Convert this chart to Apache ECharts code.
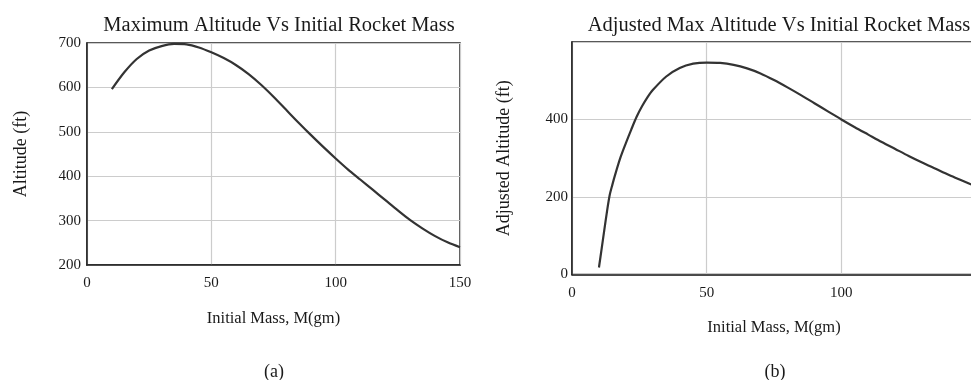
<!DOCTYPE html>
<html>
<head>
<meta charset="utf-8">
<script src="https://cdn.jsdelivr.net/npm/echarts@6/dist/echarts.min.js"></script>
<style>
html,body{margin:0;padding:0;background:#fff;}
#chart{width:971px;height:380px;}
</style>
</head>
<body>
<div id="chart"></div>
<script>
// ---- Data ----
const massA = [10, 15, 20, 25, 30, 35, 40, 45, 50, 55, 60, 65, 70, 75, 80, 85, 90, 95, 100, 105, 110, 115, 120, 125, 130, 135, 140, 145, 150];
const altitudeA = [596, 634, 664, 683, 693, 698, 697, 690, 679, 666, 650, 630, 606, 579, 550, 521, 493, 466, 440, 415, 392, 369, 346, 323, 301, 282, 265, 251, 240];

const massB = [10, 11, 12, 13, 14, 15, 16, 18, 20, 22, 24, 26, 28, 30, 35, 40, 45, 50, 55, 60, 65, 70, 75, 80, 85, 90, 95, 100, 105, 110, 115, 120, 125, 130, 135, 140, 145, 150];
const adjAltitudeB = [18, 66, 115, 163, 205, 232, 257, 302, 339, 374, 407, 434, 457, 476, 511, 533, 544, 547, 546, 541, 532, 519, 502, 483, 463, 442, 421, 400, 380, 361, 342, 324, 306, 289, 273, 257, 242, 227];

const titleA = 'Maximum Altitude Vs Initial Rocket Mass';
const titleB = 'Adjusted Max Altitude Vs Initial Rocket Mass';
const xName = 'Initial Mass, M(gm)';
const yNameA = 'Altitude (ft)';
const yNameB = 'Adjusted Altitude (ft)';
const panelLabels = ['(a)', '(b)'];

// ---- Chart ----
const FONT = 'Liberation Serif';
const TXT = '#1a1a1a';
const FRAME = '#222';
const GRIDC = '#cccccc';

const pairs = (xs, ys) => xs.map((x, i) => [x, ys[i]]);

const chart = echarts.init(document.getElementById('chart'), null, {renderer: 'canvas'});

function xAxisCfg(gridIndex, hideMax) {
  return {
    type: 'value', gridIndex, min: 0, max: 150, interval: 50,
    name: xName, nameLocation: 'middle', nameGap: 45,
    nameTextStyle: {fontFamily: FONT, fontSize: 16.5, color: TXT},
    axisLine: {show: true, lineStyle: {color: FRAME, width: 1.5}},
    axisTick: {show: false},
    axisLabel: {fontFamily: FONT, fontSize: 15, color: TXT, margin: 11, showMaxLabel: !hideMax},
    splitLine: {show: true, lineStyle: {color: GRIDC, width: 1.2}}
  };
}

chart.setOption({
  animation: false,
  backgroundColor: '#fff',
  title: [
    {text: titleA, left: 274, top: 10, textAlign: 'center',
     textStyle: {fontFamily: FONT, fontSize: 20.5, fontWeight: 'normal', color: TXT}},
    {text: titleB, left: 774, top: 10, textAlign: 'center',
     textStyle: {fontFamily: FONT, fontSize: 20.5, fontWeight: 'normal', color: TXT}}
  ],
  grid: [
    {left: 87, top: 43, width: 373, height: 222, show: true, borderColor: FRAME, borderWidth: 1.5,
     containLabel: false, outerBoundsMode: 'none'},
    {left: 572, top: 42, width: 404, height: 232.5, show: true, borderColor: FRAME, borderWidth: 1.5,
     containLabel: false, outerBoundsMode: 'none'}
  ],
  xAxis: [xAxisCfg(0, false), xAxisCfg(1, true)],
  yAxis: [
    {type: 'value', gridIndex: 0, min: 200, max: 700, interval: 100,
     name: yNameA, nameLocation: 'middle', nameGap: 57,
     nameTextStyle: {fontFamily: FONT, fontSize: 18, color: TXT},
     axisLine: {show: true, lineStyle: {color: FRAME, width: 1.5}},
     axisTick: {show: false},
     axisLabel: {fontFamily: FONT, fontSize: 15, color: TXT, margin: 6},
     splitLine: {show: true, lineStyle: {color: GRIDC, width: 1.2}}},
    {type: 'value', gridIndex: 1, min: 0, max: 600, interval: 200,
     name: yNameB, nameLocation: 'middle', nameGap: 59,
     nameTextStyle: {fontFamily: FONT, fontSize: 18, color: TXT},
     axisLine: {show: true, lineStyle: {color: FRAME, width: 1.5}},
     axisTick: {show: false},
     axisLabel: {fontFamily: FONT, fontSize: 15, color: TXT, margin: 4, showMaxLabel: false},
     splitLine: {show: true, lineStyle: {color: GRIDC, width: 1.2}}}
  ],
  series: [
    {type: 'line', xAxisIndex: 0, yAxisIndex: 0, data: pairs(massA, altitudeA),
     showSymbol: false, smooth: 0.3, lineStyle: {color: '#333', width: 2.2}, z: 5},
    {type: 'line', xAxisIndex: 1, yAxisIndex: 1, data: pairs(massB, adjAltitudeB),
     showSymbol: false, smooth: 0.3, lineStyle: {color: '#333', width: 2.2}, z: 5}
  ],
  graphic: [
    {type: 'text', x: 274, y: 372, style: {text: panelLabels[0], fontFamily: FONT, fontSize: 18, fill: TXT, textAlign: 'center', textVerticalAlign: 'middle'}},
    {type: 'text', x: 775, y: 372, style: {text: panelLabels[1], fontFamily: FONT, fontSize: 18, fill: TXT, textAlign: 'center', textVerticalAlign: 'middle'}}
  ]
});
</script>
</body>
</html>
